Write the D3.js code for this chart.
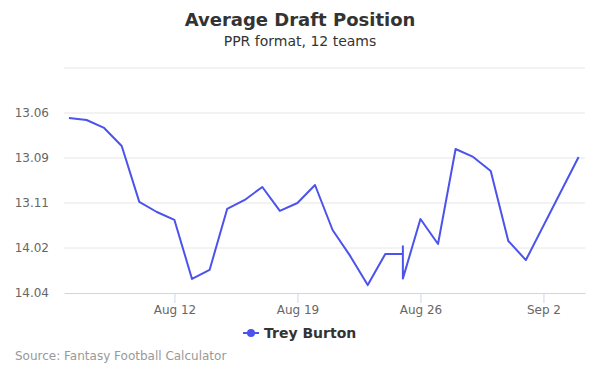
<!DOCTYPE html>
<html>
<head>
<meta charset="utf-8">
<script src="https://cdn.jsdelivr.net/npm/d3@7"></script>
<style>
  body { margin: 0; background: #fff; font-family: "DejaVu Sans", sans-serif; }
</style>
</head>
<body>
<div id="chart"></div>
<script>
// Daten: Datum und durchschnittlicher Pick (gesamt, 12 Teams)
const dates = ["2018-08-06", "2018-08-07", "2018-08-08", "2018-08-09", "2018-08-10", "2018-08-11",
  "2018-08-12", "2018-08-13", "2018-08-14", "2018-08-15", "2018-08-16", "2018-08-17",
  "2018-08-18", "2018-08-19", "2018-08-20", "2018-08-21", "2018-08-22", "2018-08-23",
  "2018-08-24", "2018-08-25", "2018-08-25", "2018-08-25", "2018-08-26", "2018-08-27",
  "2018-08-28", "2018-08-29", "2018-08-30", "2018-08-31", "2018-09-01", "2018-09-04"];
const picks = [150.28, 150.39, 150.83, 151.83, 154.94, 155.5,
  155.94, 159.22, 158.72, 155.33, 154.83, 154.11,
  155.44, 155.0, 154.0, 156.5, 157.94, 159.56,
  157.83, 157.83, 157.4, 159.2, 155.89, 157.28,
  152.0, 152.44, 153.22, 157.11, 158.17, 152.44];
const yTicks = [147.5, 150, 152.5, 155, 157.5, 160];
const xTicks = ["2018-08-12", "2018-08-19", "2018-08-26", "2018-09-02"];
const seriesName = "Trey Burton";
const lineColor = "#4b53ec";

const W = 600, H = 375;
const margin = { top: 68, right: 15, bottom: 82, left: 64 };
const width = W - margin.left - margin.right;
const height = H - margin.top - margin.bottom;

const parse = d3.timeParse("%Y-%m-%d");
const data = dates.map((d, i) => ({ date: parse(d), pick: picks[i] }));

const svg = d3.select("#chart").append("svg")
  .attr("width", W).attr("height", H)
  .style("font-family", "'DejaVu Sans', sans-serif");

svg.append("text").attr("x", W / 2).attr("y", 26).attr("text-anchor", "middle")
  .style("font-size", "18px").style("font-weight", "bold").style("fill", "#333")
  .text("Average Draft Position");
svg.append("text").attr("x", W / 2).attr("y", 46).attr("text-anchor", "middle")
  .style("font-size", "14px").style("fill", "#333")
  .text("PPR format, 12 teams");

const g = svg.append("g").attr("transform", `translate(${margin.left},${margin.top})`);

// Skalen
const xScale = d3.scaleTime()
  .domain([new Date(2018, 7, 5, 17, 10), new Date(2018, 8, 4, 8, 45)])
  .range([0, width]);
const yScale = d3.scaleLinear().domain([147.5, 160]).range([0, height]);

// Format: Runde.Pick
function fmtPick(v) {
  const p = Math.round(v);
  const round = Math.floor((p - 1) / 12) + 1;
  const pick = p - (round - 1) * 12;
  return round + "." + String(pick).padStart(2, "0");
}

// Grid
g.selectAll(".grid").data(yTicks.slice(0, -1)).join("line")
  .attr("x1", 0).attr("x2", width)
  .attr("y1", d => yScale(d)).attr("y2", d => yScale(d))
  .attr("stroke", "#e6e6e6").attr("stroke-width", 1);

// Y-Achse
const yAxis = d3.axisLeft(yScale).tickValues(yTicks.slice(1)).tickSize(0).tickFormat(fmtPick);
g.append("g").call(yAxis)
  .call(s => s.select(".domain").remove())
  .selectAll("text").attr("x", -15).attr("dy", "0.32em")
  .style("font-size", "12px").style("fill", "#666").style("font-family", "'DejaVu Sans', sans-serif");

// X-Achse
const xAxis = d3.axisBottom(xScale).tickValues(xTicks.map(parse)).tickSizeInner(10).tickSizeOuter(0)
  .tickFormat(d3.timeFormat("%b %-d"));
const xg = g.append("g").attr("transform", `translate(0,${height})`).call(xAxis);
xg.select(".domain").attr("stroke", "#ccd6eb");
xg.selectAll(".tick line").attr("stroke", "#ccd6eb");
xg.selectAll("text").attr("y", 12).attr("dy", "0.71em")
  .style("font-size", "12px").style("fill", "#666").style("font-family", "'DejaVu Sans', sans-serif");

// Linie
const line = d3.line().x(d => xScale(d.date)).y(d => yScale(d.pick));
g.append("path").datum(data)
  .attr("d", line).attr("fill", "none")
  .attr("stroke", lineColor).attr("stroke-width", 2)
  .attr("stroke-linejoin", "round");

// Legende
const lg = svg.append("g").attr("transform", `translate(${W / 2 - 57},333)`);
lg.append("line").attr("x1", 0).attr("x2", 16).attr("y1", 0).attr("y2", 0)
  .attr("stroke", lineColor).attr("stroke-width", 2);
lg.append("circle").attr("cx", 8).attr("cy", 0).attr("r", 4).attr("fill", lineColor);
lg.append("text").attr("x", 21).attr("y", 5)
  .style("font-size", "14px").style("font-weight", "bold").style("fill", "#333")
  .text(seriesName);

// Quelle
svg.append("text").attr("x", 15).attr("y", 360)
  .style("font-size", "12px").style("fill", "#999")
  .text("Source: Fantasy Football Calculator");
</script>
</body>
</html>
